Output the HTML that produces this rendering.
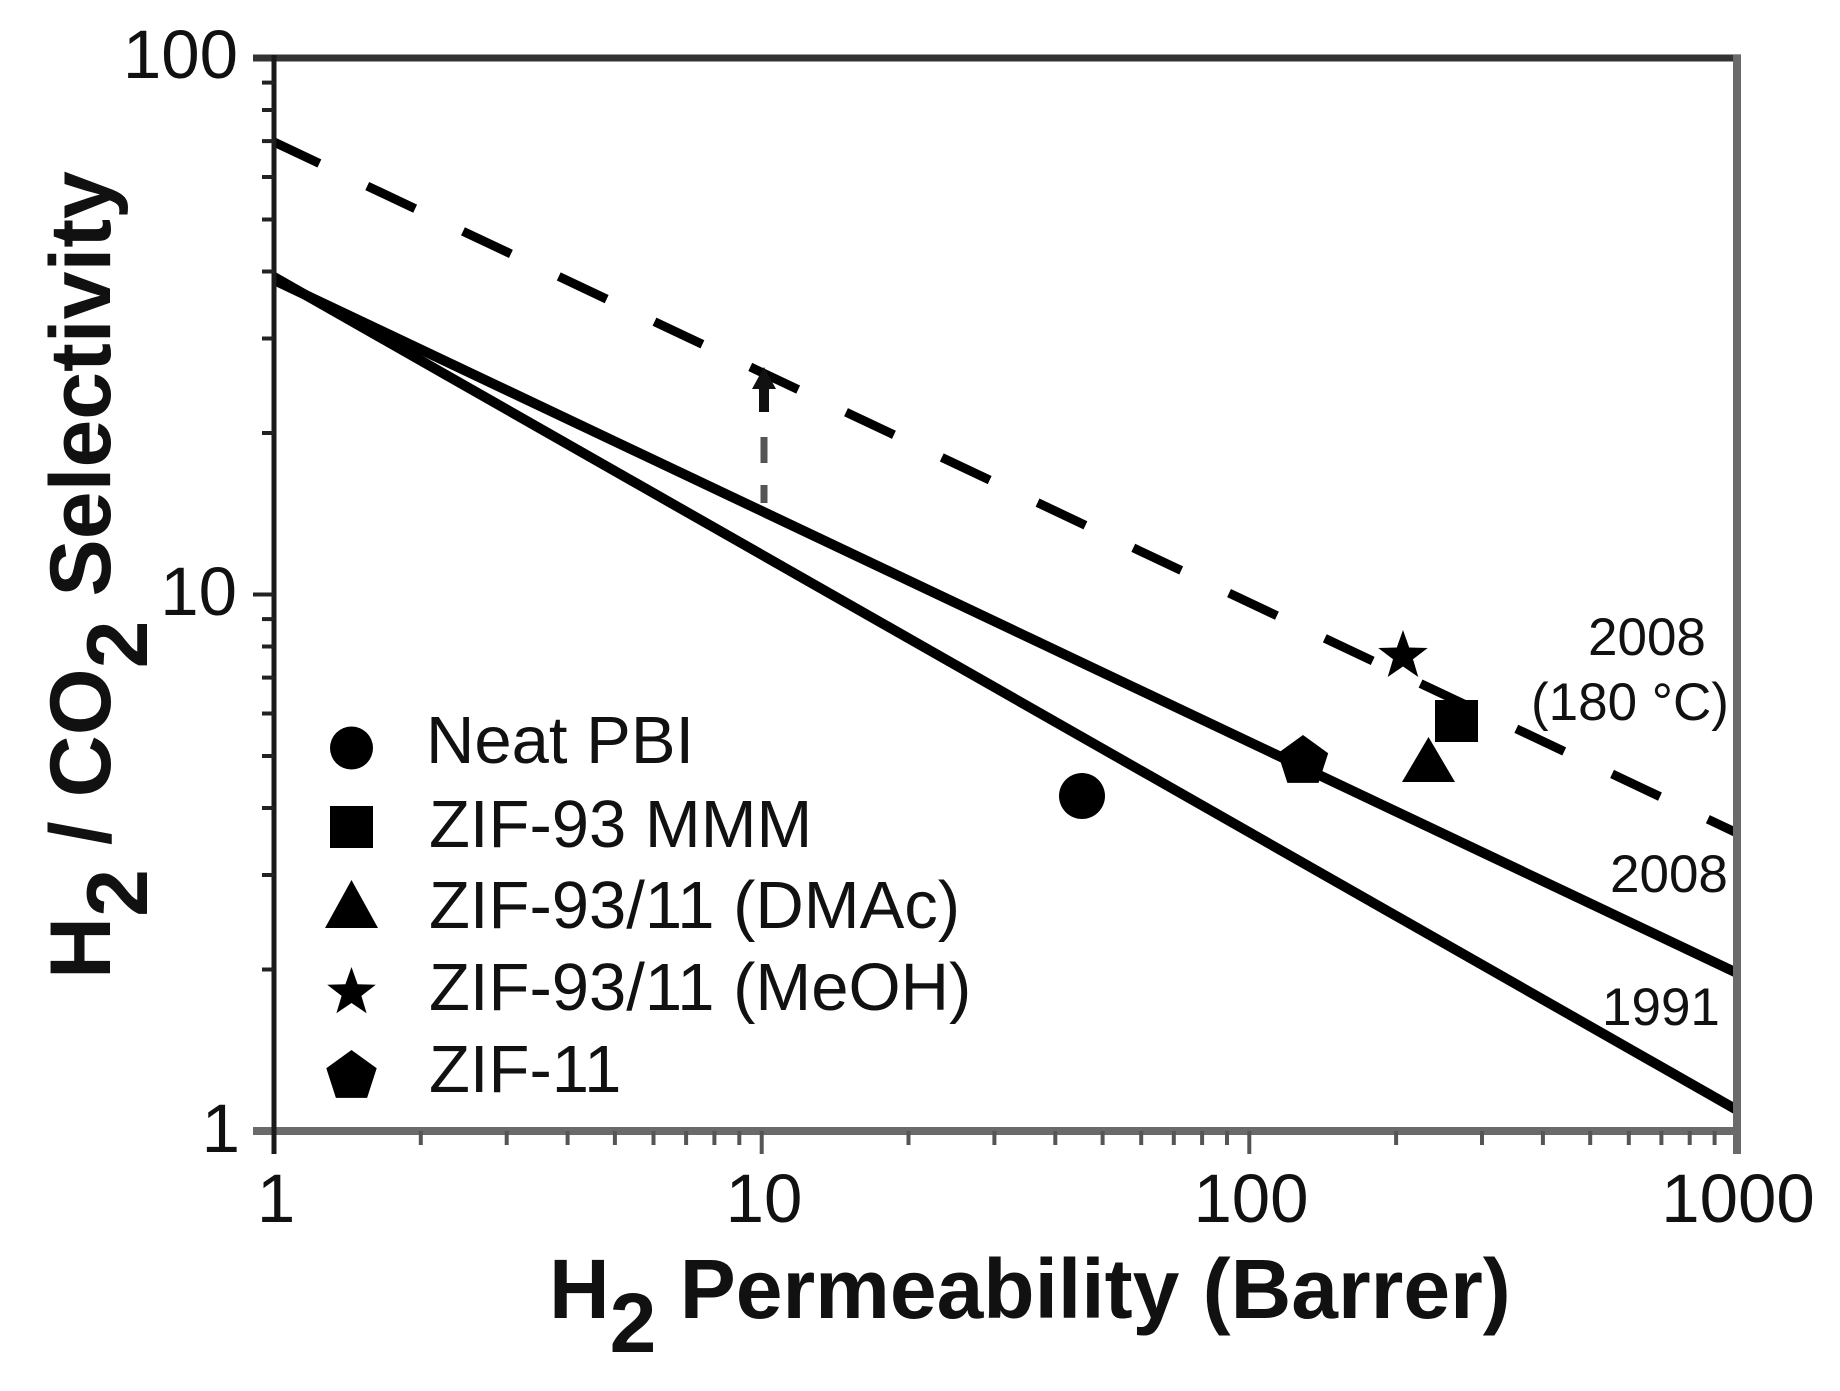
<!DOCTYPE html>
<html>
<head>
<meta charset="utf-8">
<style>
  html, body { margin: 0; padding: 0; background: #ffffff; }
  svg { display: block; }
  text { font-family: "Liberation Sans", Arial, sans-serif; fill: #111; }
</style>
</head>
<body>
<svg width="1840" height="1391" viewBox="0 0 1840 1391" xmlns="http://www.w3.org/2000/svg">
  <rect x="0" y="0" width="1840" height="1391" fill="#ffffff"/>

  <!-- Bound lines -->
  <g stroke="#000" fill="none" stroke-linecap="butt">
    <!-- 1991 -->
    <line x1="274" y1="277" x2="1737" y2="1110" stroke-width="10"/>
    <!-- 2008 -->
    <line x1="274" y1="280" x2="1737" y2="973" stroke-width="10"/>
    <!-- 2008 (180 C) dashed -->
    <line x1="274" y1="142" x2="1737" y2="833" stroke-width="9" stroke-dasharray="53 52.9" stroke-dashoffset="2.8"/>
  </g>

  <!-- vertical dashed arrow at P=10 -->
  <g>
    <line x1="764" y1="485" x2="764" y2="503" stroke="#555" stroke-width="7"/>
    <line x1="764" y1="437" x2="764" y2="463" stroke="#555" stroke-width="7"/>
    <line x1="764" y1="384" x2="764" y2="412" stroke="#111" stroke-width="10"/>
    <polygon points="764,367 752,389 776,389" fill="#111"/>
  </g>

  <!-- Axes frame -->
  <line x1="253" y1="58" x2="1741" y2="58" stroke="#333" stroke-width="7"/>
  <line x1="1737" y1="55" x2="1737" y2="1154" stroke="#6a6a6a" stroke-width="8"/>
  <line x1="253" y1="1131" x2="1741" y2="1131" stroke="#6a6a6a" stroke-width="8"/>
  <line x1="274" y1="55" x2="274" y2="1154" stroke="#1a1a1a" stroke-width="5"/>

  <!-- Y ticks -->
  <g stroke="#222" stroke-width="4">
    <line x1="253" y1="594.5" x2="274" y2="594.5"/>
    <line x1="262" y1="969.5" x2="274" y2="969.5"/>
    <line x1="262" y1="875" x2="274" y2="875"/>
    <line x1="262" y1="808" x2="274" y2="808"/>
    <line x1="262" y1="756" x2="274" y2="756"/>
    <line x1="262" y1="713.5" x2="274" y2="713.5"/>
    <line x1="262" y1="677.6" x2="274" y2="677.6"/>
    <line x1="262" y1="646.5" x2="274" y2="646.5"/>
    <line x1="262" y1="619.1" x2="274" y2="619.1"/>
    <line x1="262" y1="433" x2="274" y2="433"/>
    <line x1="262" y1="338.5" x2="274" y2="338.5"/>
    <line x1="262" y1="271.5" x2="274" y2="271.5"/>
    <line x1="262" y1="219.5" x2="274" y2="219.5"/>
    <line x1="262" y1="177" x2="274" y2="177"/>
    <line x1="262" y1="141.1" x2="274" y2="141.1"/>
    <line x1="262" y1="110" x2="274" y2="110"/>
    <line x1="262" y1="82.6" x2="274" y2="82.6"/>
  </g>

  <!-- X ticks -->
  <g stroke="#555" stroke-width="4">
    <line x1="761.7" y1="1131" x2="761.7" y2="1154"/>
    <line x1="1249.3" y1="1131" x2="1249.3" y2="1154"/>
    <line x1="420.8" y1="1131" x2="420.8" y2="1145"/>
    <line x1="506.7" y1="1131" x2="506.7" y2="1145"/>
    <line x1="567.6" y1="1131" x2="567.6" y2="1145"/>
    <line x1="614.9" y1="1131" x2="614.9" y2="1145"/>
    <line x1="653.5" y1="1131" x2="653.5" y2="1145"/>
    <line x1="686.1" y1="1131" x2="686.1" y2="1145"/>
    <line x1="714.4" y1="1131" x2="714.4" y2="1145"/>
    <line x1="739.3" y1="1131" x2="739.3" y2="1145"/>
    <line x1="908.5" y1="1131" x2="908.5" y2="1145"/>
    <line x1="994.4" y1="1131" x2="994.4" y2="1145"/>
    <line x1="1055.3" y1="1131" x2="1055.3" y2="1145"/>
    <line x1="1102.6" y1="1131" x2="1102.6" y2="1145"/>
    <line x1="1141.2" y1="1131" x2="1141.2" y2="1145"/>
    <line x1="1173.8" y1="1131" x2="1173.8" y2="1145"/>
    <line x1="1202.1" y1="1131" x2="1202.1" y2="1145"/>
    <line x1="1227" y1="1131" x2="1227" y2="1145"/>
    <line x1="1396.1" y1="1131" x2="1396.1" y2="1145"/>
    <line x1="1482" y1="1131" x2="1482" y2="1145"/>
    <line x1="1542.9" y1="1131" x2="1542.9" y2="1145"/>
    <line x1="1590.2" y1="1131" x2="1590.2" y2="1145"/>
    <line x1="1628.8" y1="1131" x2="1628.8" y2="1145"/>
    <line x1="1661.4" y1="1131" x2="1661.4" y2="1145"/>
    <line x1="1689.7" y1="1131" x2="1689.7" y2="1145"/>
    <line x1="1714.6" y1="1131" x2="1714.6" y2="1145"/>
  </g>

  <!-- Tick labels -->
  <g font-size="69" text-anchor="end">
    <text x="238" y="78">100</text>
    <text x="237" y="615">10</text>
    <text x="240" y="1152">1</text>
  </g>
  <g font-size="69" text-anchor="middle">
    <text x="276" y="1222">1</text>
    <text x="764" y="1222">10</text>
    <text x="1251" y="1222">100</text>
    <text x="1738" y="1222">1000</text>
  </g>

  <!-- Axis titles -->
  <text x="549" y="1318" font-size="84" font-weight="bold">H<tspan dy="34">2</tspan><tspan dy="-34"> Permeability (Barrer)</tspan></text>
  <text transform="translate(110,979) rotate(-90)" x="0" y="0" font-size="86" font-weight="bold">H<tspan dy="37">2</tspan><tspan dy="-37"> / CO</tspan><tspan dy="37">2</tspan><tspan dy="-37"> Selectivity</tspan></text>

  <!-- Line labels -->
  <g font-size="53">
    <text x="1588" y="655">2008</text>
    <text x="1531" y="720">(180 °C)</text>
    <text x="1610" y="892">2008</text>
    <text x="1602" y="1025">1991</text>
  </g>

  <!-- Data markers -->
  <g fill="#000">
    <circle cx="1082" cy="796" r="23"/>
    <polygon points="1303,735 1328.2,753.3 1318.6,782.9 1287.4,782.9 1277.8,753.3"/>
    <polygon points="1403,630 1409.2,647.5 1427.7,648 1413,659.3 1418.3,677 1403,666.5 1387.7,677 1393,659.3 1378.3,648 1396.8,647.5"/>
    <rect x="1435" y="700" width="43" height="42"/>
    <polygon points="1428.5,737 1402,782 1455,782"/>
  </g>

  <!-- Legend -->
  <g fill="#000">
    <circle cx="351.5" cy="748" r="21.5"/>
    <rect x="330" y="806" width="43" height="42"/>
    <polygon points="351.5,880 325,928 378,928"/>
    <polygon points="351.5,967 357.6,984.2 375.8,984.7 361.4,995.9 366.6,1013.3 351.5,1003 336.4,1013.3 341.6,995.9 327.2,984.7 345.4,984.2"/>
    <polygon points="351.5,1050 376.7,1068.3 367.1,1097.9 335.9,1097.9 326.3,1068.3"/>
  </g>
  <g font-size="67">
    <text x="426" y="763">Neat PBI</text>
    <text x="429" y="847">ZIF-93 MMM</text>
    <text x="429" y="928">ZIF-93/11 (DMAc)</text>
    <text x="429" y="1010">ZIF-93/11 (MeOH)</text>
    <text x="429" y="1092">ZIF-11</text>
  </g>
</svg>
</body>
</html>
